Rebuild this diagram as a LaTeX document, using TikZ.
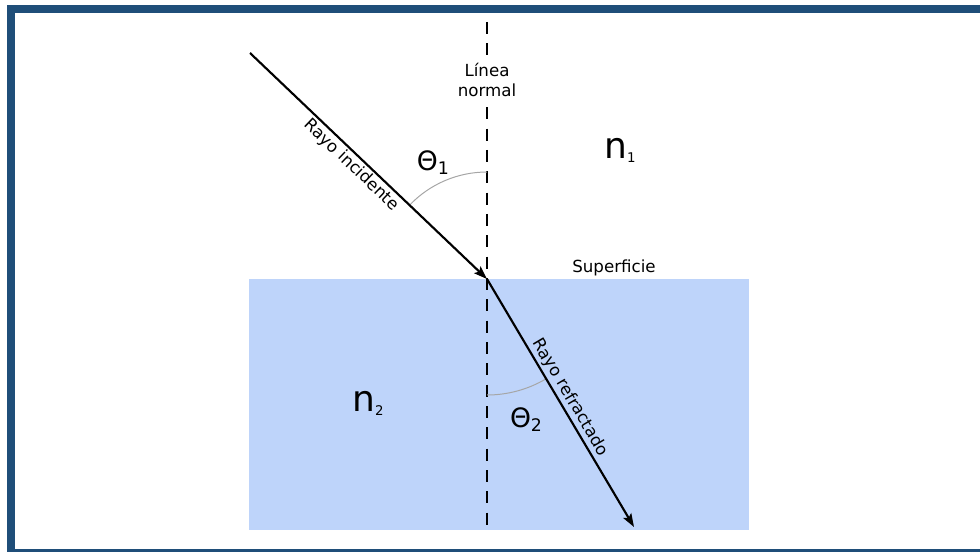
\documentclass[tikz,border=0pt]{standalone}
\usepackage{fontspec}
\setmainfont{DejaVu Sans}
\usetikzlibrary{calc,arrows.meta}
\definecolor{framecol}{RGB}{31,78,121}
\definecolor{watercol}{RGB}{190,212,250}
\newcommand{\idx}[3][11]{#2\raisebox{-3pt}{\fontsize{#1}{#1}\selectfont #3}}

\begin{document}
\begin{tikzpicture}[x=0.75pt,y=-0.75pt,thick,
        font=\fontsize{12.5}{15.5}\selectfont,
        ray/.style={line width=1.6pt,-{Stealth[length=10pt,width=7pt,inset=2pt]}},
        normalline/.style={line width=1.1pt,dash pattern=on 9pt off 7pt},
        anglearc/.style={gray!70,line width=0.75pt},
        bigsym/.style={font=\fontsize{27}{29}\selectfont},
        thetasym/.style={font=\fontsize{20}{22}\selectfont}]
        \useasboundingbox (0,0) rectangle (980,552);
        \clip (0,0) rectangle (980,552);
        \draw[framecol,line width=6pt] (11,9) rectangle (990,553);
        \fill[watercol] (249,279) rectangle (749,530);

        \coordinate (hit) at (487,279);
        \coordinate (src) at (250,53);
        \coordinate (dst) at (634,527);
        \coordinate (ntop) at (487,22);
        \coordinate (nbot) at (487,528);

        \draw[normalline] (ntop) -- (nbot);
        \node[fill=white,inner sep=1pt,align=center] (lblnormal) at (487,80) {Línea\\normal};

        % angles
        \draw[anglearc] ($(hit)+(0,-107)$) arc[start angle=-90,end angle=-136.4,radius=107];
        \draw[anglearc] ($(hit)+(0,116)$) arc[start angle=90,end angle=59.3,radius=116];

        \draw[ray] (src) -- (hit) node[pos=.46,sloped,below,inner sep=1.5pt] (lblinc) {Rayo incidente};
        \draw[ray] (hit) -- (dst) node[pos=.5,sloped,above,inner sep=1.5pt] (lblref) {Rayo refractado};

        \node[thetasym] (lblth1) at (433,163) {\idx[13]{Θ}{1}};
        \node[thetasym] (lblth2) at (526,420) {\idx[13]{Θ}{2}};
        \node[bigsym] (lbln1) at (620,150) {\idx[10]{n}{1}};
        \node[bigsym] (lbln2) at (368,403) {\idx[10]{n}{2}};
        \node (lblsurf) at (614,268) {Superficie};
\end{tikzpicture}
\end{document}
